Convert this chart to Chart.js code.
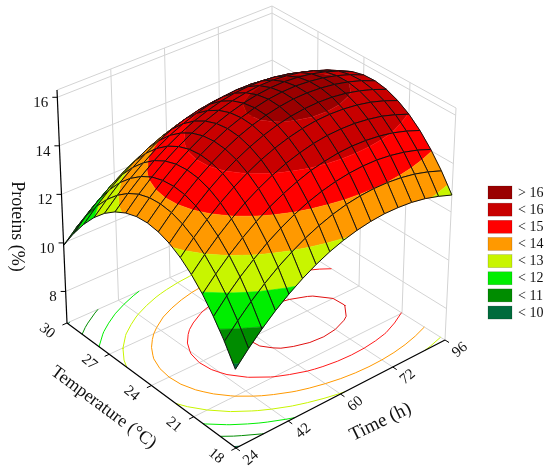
<!DOCTYPE html>
<html>
<head>
<meta charset="utf-8">
<script src="https://cdn.jsdelivr.net/npm/chart.js@4.4.1/dist/chart.umd.min.js"></script>
<style>
html,body{margin:0;padding:0;background:#ffffff;}
#wrap{width:550px;height:473px;position:relative;}
</style>
</head>
<body>
<div id="wrap"><canvas id="chart" width="550" height="473"></canvas></div>
<script>
// ---------------- DATA ----------------
const time = [24, 28.5, 33, 37.5, 42, 46.5, 51, 55.5, 60, 64.5, 69, 73.5, 78, 82.5, 87, 91.5, 96];
const temperature = [18, 18.75, 19.5, 20.25, 21, 21.75, 22.5, 23.25, 24, 24.75, 25.5, 26.25, 27, 27.75, 28.5, 29.25, 30];

// Proteins (%) along Time, one row per temperature
const proteins_T18_00 = [9.85,10.42,10.94,11.41,11.82,12.18,12.49,12.75,12.95,13.10,13.20,13.25,13.24,13.19,13.08,12.91,12.70];
const proteins_T18_75 = [10.66,11.22,11.74,12.20,12.61,12.96,13.27,13.52,13.72,13.87,13.96,14.00,13.99,13.93,13.82,13.65,13.43];
const proteins_T19_50 = [11.35,11.92,12.43,12.88,13.29,13.64,13.94,14.19,14.38,14.52,14.61,14.65,14.64,14.57,14.45,14.28,14.05];
const proteins_T20_25 = [11.95,12.50,13.01,13.46,13.86,14.21,14.50,14.74,14.94,15.07,15.16,15.19,15.17,15.10,14.98,14.80,14.57];
const proteins_T21_00 = [12.43,12.98,13.48,13.93,14.33,14.67,14.96,15.20,15.38,15.52,15.60,15.62,15.60,15.52,15.40,15.21,14.98];
const proteins_T21_75 = [12.81,13.36,13.85,14.29,14.68,15.02,15.31,15.54,15.72,15.85,15.93,15.95,15.92,15.84,15.71,15.52,15.28];
const proteins_T22_50 = [13.08,13.62,14.11,14.55,14.94,15.27,15.55,15.78,15.96,16.08,16.15,16.17,16.14,16.05,15.91,15.72,15.48];
const proteins_T23_25 = [13.24,13.78,14.27,14.70,15.08,15.41,15.69,15.91,16.08,16.20,16.27,16.28,16.24,16.15,16.01,15.82,15.57];
const proteins_T24_00 = [13.30,13.83,14.31,14.74,15.12,15.44,15.72,15.93,16.10,16.22,16.28,16.29,16.24,16.15,16.00,15.80,15.55];
const proteins_T24_75 = [13.25,13.78,14.25,14.68,15.05,15.37,15.64,15.85,16.01,16.12,16.18,16.19,16.14,16.04,15.89,15.68,15.42];
const proteins_T25_50 = [13.09,13.62,14.09,14.51,14.87,15.19,15.45,15.66,15.82,15.92,15.98,15.98,15.92,15.82,15.66,15.45,15.19];
const proteins_T26_25 = [12.83,13.35,13.81,14.23,14.59,14.90,15.16,15.36,15.52,15.62,15.66,15.66,15.60,15.49,15.33,15.12,14.85];
const proteins_T27_00 = [12.46,12.97,13.43,13.84,14.20,14.51,14.76,14.96,15.11,15.20,15.25,15.24,15.18,15.06,14.90,14.68,14.41];
const proteins_T27_75 = [11.98,12.49,12.95,13.35,13.70,14.00,14.25,14.45,14.59,14.68,14.72,14.71,14.64,14.52,14.35,14.13,13.85];
const proteins_T28_50 = [11.39,11.90,12.35,12.75,13.10,13.40,13.64,13.83,13.97,14.05,14.09,14.07,14.00,13.88,13.70,13.47,13.19];
const proteins_T29_25 = [10.70,11.20,11.65,12.04,12.39,12.68,12.92,13.10,13.24,13.32,13.35,13.33,13.25,13.12,12.94,12.71,12.42];
const proteins_T30_00 = [9.90,10.40,10.84,11.23,11.57,11.86,12.09,12.27,12.40,12.48,12.50,12.47,12.39,12.26,12.08,11.84,11.55];

const proteinTicks = [8, 10, 12, 14, 16];
const temperatureTicks = [18, 21, 24, 27, 30];
const timeTickLabels = ['24', '42', '60', '72', '96'];
const bandLimits = [10, 11, 12, 13, 14, 15, 16];
const legendLabels = ['> 16', '< 16', '< 15', '< 14', '< 13', '< 12', '< 11', '< 10'];

// ---------------- STYLE / LAYOUT ----------------
const bandColors = ['#006b3c', '#008c00', '#00ee00', '#c8f500', '#ff9900', '#ff0000', '#c80000', '#9a0000']; // low -> high
const contourColors = ['#006b3c', '#008c00', '#00ee00', '#c8f500', '#ff9900', '#ff1a1a', '#e01010'];
const proteinAxisRange = { min: 6.7, max: 16.3 };
// canvas positions of the box corners (F: min time/min temp, R: max time/min temp, L: min time/max temp, B: max/max)
const view = {
  floor: { F: [236, 448], R: [445, 340], L: [67, 323], B: [273, 232] },
  top:   { F: [234, 208], R: [456, 108], L: [57, 90],  B: [272, 6] }
};
const FONT = "'Liberation Serif', 'DejaVu Serif', serif";
const GRID = '#d3d3d3';

// ---------------- BUILD ----------------
const proteinRows = [proteins_T18_00, proteins_T18_75, proteins_T19_50, proteins_T20_25, proteins_T21_00,
  proteins_T21_75, proteins_T22_50, proteins_T23_25, proteins_T24_00, proteins_T24_75, proteins_T25_50,
  proteins_T26_25, proteins_T27_00, proteins_T27_75, proteins_T28_50, proteins_T29_25, proteins_T30_00];

const tMin = time[0], tMax = time[time.length - 1];
const TMin = temperature[0], TMax = temperature[temperature.length - 1];
const zLo = proteinAxisRange.min, zHi = proteinAxisRange.max;
const timeTickPos = timeTickLabels.map((_, k) => tMin + k * (tMax - tMin) / (timeTickLabels.length - 1));

function project(t, T, z) {
  const u = (t - tMin) / (tMax - tMin), v = (T - TMin) / (TMax - TMin), h = (z - zLo) / (zHi - zLo);
  const bl = (c, k) => c.F[k] * (1 - u) * (1 - v) + c.R[k] * u * (1 - v) + c.L[k] * (1 - u) * v + c.B[k] * u * v;
  const fx = bl(view.floor, 0), fy = bl(view.floor, 1), gx = bl(view.top, 0), gy = bl(view.top, 1);
  return { x: fx + h * (gx - fx), y: fy + h * (gy - fy) };
}
const W = p => project(p.t, p.T, p.z);

function lineDS(list, pts, color, width) {
  list.push({ data: pts, borderColor: color, borderWidth: width, fill: false, pointRadius: 0, tension: 0, spanGaps: false });
}
function polyDS(list, pts, color) {
  list.push({ data: pts, fill: 'shape', backgroundColor: color, borderColor: color, borderWidth: 0.6, pointRadius: 0, tension: 0 });
}

const axesLayer = [], surfaceLayer = [], contourLayer = [], gridLayer = [];

// grid & box (back walls + floor)
temperatureTicks.slice(1, -1).forEach(T => lineDS(gridLayer, [project(tMin, T, zLo), project(tMax, T, zLo)], GRID, 1));
timeTickPos.slice(1, -1).forEach(t => lineDS(gridLayer, [project(t, TMin, zLo), project(t, TMax, zLo)], GRID, 1));
timeTickPos.slice(1, -1).forEach(t => lineDS(gridLayer, [project(t, TMax, zLo), project(t, TMax, zHi)], GRID, 1));
proteinTicks.forEach(z => lineDS(gridLayer, [project(tMin, TMax, z), project(tMax, TMax, z)], GRID, 1));
temperatureTicks.slice(1, -1).forEach(T => lineDS(gridLayer, [project(tMax, T, zLo), project(tMax, T, zHi)], GRID, 1));
proteinTicks.forEach(z => lineDS(gridLayer, [project(tMax, TMin, z), project(tMax, TMax, z)], GRID, 1));
lineDS(gridLayer, [project(tMin, TMax, zLo), project(tMax, TMax, zLo), project(tMax, TMin, zLo)], GRID, 1);
lineDS(gridLayer, [project(tMin, TMax, zHi), project(tMax, TMax, zHi), project(tMax, TMin, zHi)], GRID, 1);
lineDS(gridLayer, [project(tMax, TMax, zLo), project(tMax, TMax, zHi)], GRID, 1);
lineDS(gridLayer, [project(tMax, TMin, zLo), project(tMax, TMin, zHi)], GRID, 1);

// floor contours (marching squares on the data grid)
bandLimits.forEach((L, li) => {
  const pts = [];
  for (let j = 0; j < temperature.length - 1; j++) {
    for (let i = 0; i < time.length - 1; i++) {
      const c = [
        { t: time[i], T: temperature[j], z: proteinRows[j][i] },
        { t: time[i + 1], T: temperature[j], z: proteinRows[j][i + 1] },
        { t: time[i + 1], T: temperature[j + 1], z: proteinRows[j + 1][i + 1] },
        { t: time[i], T: temperature[j + 1], z: proteinRows[j + 1][i] }
      ];
      const cross = [];
      for (let e = 0; e < 4; e++) {
        const a = c[e], b = c[(e + 1) % 4];
        if ((a.z < L) !== (b.z < L)) {
          const r = (L - a.z) / (b.z - a.z);
          cross.push(project(a.t + r * (b.t - a.t), a.T + r * (b.T - a.T), zLo));
        }
      }
      for (let k = 0; k + 1 < cross.length; k += 2) {
        pts.push(cross[k], cross[k + 1], { x: NaN, y: NaN });
      }
    }
  }
  lineDS(contourLayer, pts, contourColors[li], 1);
});

// surface cells, banded by level, sorted nearest first (first dataset is drawn on top)
function clip(poly, level, keepAbove) {
  const out = [];
  for (let k = 0; k < poly.length; k++) {
    const a = poly[k], b = poly[(k + 1) % poly.length];
    const ina = keepAbove ? a.z >= level : a.z < level;
    const inb = keepAbove ? b.z >= level : b.z < level;
    if (ina) out.push(a);
    if (ina !== inb) {
      const r = (level - a.z) / (b.z - a.z);
      out.push({ t: a.t + r * (b.t - a.t), T: a.T + r * (b.T - a.T), z: level });
    }
  }
  return out;
}
const cells = [];
for (let j = 0; j < temperature.length - 1; j++) {
  for (let i = 0; i < time.length - 1; i++) {
    const poly = [
      { t: time[i], T: temperature[j], z: proteinRows[j][i] },
      { t: time[i + 1], T: temperature[j], z: proteinRows[j][i + 1] },
      { t: time[i + 1], T: temperature[j + 1], z: proteinRows[j + 1][i + 1] },
      { t: time[i], T: temperature[j + 1], z: proteinRows[j + 1][i] }
    ];
    const uc = ((time[i] + time[i + 1]) / 2 - tMin) / (tMax - tMin);
    const vc = ((temperature[j] + temperature[j + 1]) / 2 - TMin) / (TMax - TMin);
    cells.push({ poly, key: 0.641 * uc + 0.767 * vc });
  }
}
cells.sort((a, b) => a.key - b.key);
cells.forEach(cell => {
  const outline = cell.poly.map(W);
  outline.push(outline[0]);
  lineDS(surfaceLayer, outline, '#111111', 1);
  const lims = [-Infinity, ...bandLimits, Infinity];
  for (let b = 0; b < lims.length - 1; b++) {
    let p = cell.poly;
    if (lims[b] > -Infinity) p = clip(p, lims[b], true);
    if (p.length >= 3 && lims[b + 1] < Infinity) p = clip(p, lims[b + 1], false);
    if (p.length >= 3) polyDS(surfaceLayer, p.map(W), bandColors[b]);
  }
});

// axes (black)
lineDS(axesLayer, [project(tMin, TMax, zLo), project(tMin, TMin, zLo), project(tMax, TMin, zLo)], '#000000', 1.2);
lineDS(axesLayer, [project(tMin, TMax, zLo), project(tMin, TMax, zHi)], '#000000', 1.2);
proteinTicks.forEach(z => { const p = project(tMin, TMax, z); lineDS(axesLayer, [p, { x: p.x - 5, y: p.y }], '#000000', 1); });
temperatureTicks.forEach(T => lineDS(axesLayer, [project(tMin, T, zLo), project(tMin - 1.6, T, zLo)], '#000000', 1));
timeTickPos.forEach(t => lineDS(axesLayer, [project(t, TMin, zLo), project(t, TMin - 0.28, zLo)], '#000000', 1));

const datasets = [...axesLayer, ...surfaceLayer, ...contourLayer, ...gridLayer];

// ---------------- TEXT (axis labels, titles, legend) ----------------
const textPlugin = {
  id: 'text3d',
  afterDraw(chart) {
    const ctx = chart.ctx, sx = chart.scales.x, sy = chart.scales.y;
    const px = p => ({ x: sx.getPixelForValue(p.x), y: sy.getPixelForValue(p.y) });
    ctx.save();
    ctx.fillStyle = '#111111';
    ctx.font = '15px ' + FONT;
    ctx.textAlign = 'right'; ctx.textBaseline = 'middle';
    proteinTicks.forEach(z => { const p = px(project(tMin, TMax, z)); ctx.fillText(String(z), p.x - 9, p.y + 6); });
    const rot = (txt, x, y, ang, font) => {
      ctx.save(); ctx.translate(x, y); ctx.rotate(ang * Math.PI / 180);
      ctx.font = font; ctx.textAlign = 'center'; ctx.textBaseline = 'middle';
      ctx.fillText(txt, 0, 0); ctx.restore();
    };
    temperatureTicks.forEach(T => { const p = px(project(tMin, T, zLo)); rot(String(T), p.x - 20, p.y + 8, 40, '15px ' + FONT); });
    timeTickPos.forEach((t, k) => { const p = px(project(t, TMin, zLo)); rot(timeTickLabels[k], p.x + 15, p.y + 10, -40, '15px ' + FONT); });
    const tm = px(project(tMin, (TMin + TMax) / 2, zLo));
    rot('Temperature (°C)', tm.x - 48, tm.y + 22, 36.5, '18px ' + FONT);
    const hm = px(project((tMin + tMax) / 2, TMin, zLo));
    rot('Time (h)', hm.x + 40, hm.y + 28, -26, '19px ' + FONT);
    const zm = px(project(tMin, TMax, (zLo + zHi) / 2));
    rot('Proteins (%)', zm.x - 45, zm.y + 20, 90, '18px ' + FONT);
    ctx.font = '14px ' + FONT; ctx.textAlign = 'left'; ctx.textBaseline = 'middle';
    legendLabels.forEach((lab, k) => {
      const y = 186 + k * 17.15;
      ctx.fillStyle = bandColors[bandColors.length - 1 - k];
      ctx.fillRect(488, y, 24, 13);
      ctx.strokeStyle = 'rgba(0,0,0,0.25)'; ctx.lineWidth = 0.6; ctx.strokeRect(488, y, 24, 13);
      ctx.fillStyle = '#111111';
      ctx.fillText(lab, 518, y + 7);
    });
    ctx.restore();
  }
};

new Chart(document.getElementById('chart'), {
  type: 'line',
  data: { datasets },
  options: {
    responsive: false,
    animation: false,
    events: [],
    layout: { padding: 0 },
    scales: {
      x: { type: 'linear', min: 0, max: 550, display: false },
      y: { type: 'linear', min: 0, max: 473, reverse: true, display: false }
    },
    elements: { point: { radius: 0, hitRadius: 0 }, line: { tension: 0 } },
    plugins: { legend: { display: false }, tooltip: { enabled: false }, colors: { enabled: false } }
  },
  plugins: [textPlugin]
});
</script>
</body>
</html>
